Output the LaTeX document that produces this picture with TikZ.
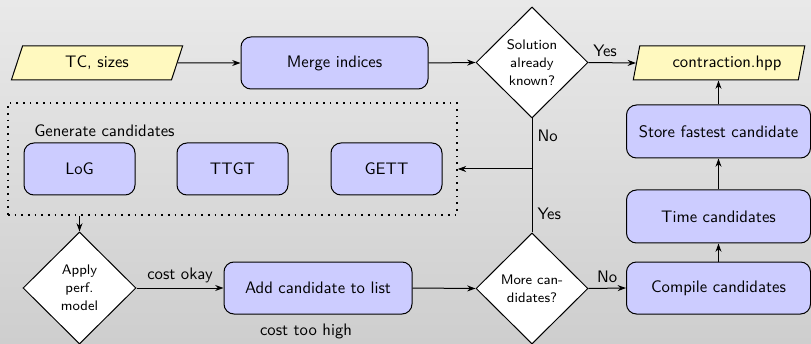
\documentclass[tikz,border=0pt]{standalone}
\usetikzlibrary{shapes.geometric,arrows.meta}
\newcommand{\PX}{0.6pt}
\definecolor{boxblue}{RGB}{204,204,255}
\definecolor{ioyellow}{RGB}{255,249,191}
\definecolor{bgtop}{RGB}{233,233,233}
\definecolor{bgbot}{RGB}{206,206,206}
\begin{document}
\begin{tikzpicture}[x=0.6pt,y=-0.6pt, font=\sffamily\fontsize{10}{12}\selectfont,
  procbox/.style={draw, fill=boxblue, rounded corners=6pt, line width=0.6pt,
    minimum width=#1*\PX, minimum height=52*\PX, inner sep=0pt},
  procbox/.default=187,
  iobox/.style={trapezium, trapezium left angle=71, trapezium right angle=109,
    trapezium stretches=true, draw, fill=ioyellow, line width=0.6pt,
    minimum width=172*\PX, minimum height=34*\PX, inner sep=0pt},
  decision/.style={diamond, aspect=1, draw, fill=white, line width=0.6pt,
    minimum width=112*\PX, minimum height=111*\PX, inner sep=0pt, align=center,
    font=\sffamily\fontsize{8.3}{10.8}\selectfont},
  groupbox/.style={draw, line width=1pt, dash pattern=on 1pt off 3pt,
    minimum width=449*\PX, minimum height=112*\PX, inner sep=0pt},
  arr/.style={-{Stealth[length=5pt,width=3.6pt]}, line width=0.6pt},
  lbl/.style={inner sep=3pt}]
\shade[top color=bgtop, bottom color=bgbot] (0,0) rectangle (811,344);
\useasboundingbox (0,0) rectangle (811,344);
\clip (0,0) rectangle (811,344);

\node[iobox] (tc) at (97,63) {TC, sizes};
\node[procbox=187] (merge) at (334.5,63) {Merge indices};
\node[decision] (sol) at (532,62.5) {Solution\\already\\known?};
\node[iobox] (hpp) at (719,63) {\hspace*{9.6pt}contraction.hpp};
\node[procbox=184, minimum height=53*\PX] (store) at (718.5,131.5) {Store fastest candidate};
\node[procbox=184, minimum height=53*\PX] (time) at (718.5,216.5) {Time candidates};
\node[procbox=184] (compile) at (718.5,288) {Compile candidates};
\node[decision] (more) at (532,288.5) {More can-\\didates?};
\node[procbox=188] (add) at (318,288) {Add candidate to list};
\node[decision, minimum width=113*\PX, minimum height=112*\PX] (apply) at (79.5,288) {Apply\\perf.\\model};
\node[groupbox] (gen) at (232.5,159) {};
\node[anchor=west, inner sep=0pt] (genlbl) at (34,131) {Generate candidates};
\node[procbox=111] (log) at (79.5,169) {LoG};
\node[procbox=111] (ttgt) at (232.5,169) {TTGT};
\node[procbox=111] (gett) at (386.5,169) {GETT};
\node (toohigh) at (306,331) {cost too high};

\draw[arr] (tc.east) -- (merge.west);
\draw[arr] (merge.east) -- (sol.west);
\draw[arr] (sol.east) -- node[lbl, above, pos=0.35] {Yes} (hpp.west);
\coordinate (jn) at (sol.south |- gett.east);
\draw[line width=0.6pt] (sol.south) -- node[lbl, right, pos=0.35] {No} (jn);
\draw[line width=0.6pt] (more.north) -- node[lbl, right, pos=0.3] {Yes} (jn);
\draw[arr] (jn) -- (jn -| gen.east);
\draw[arr] (gen.south -| apply.north) -- (apply.north);
\draw[arr] (apply.east) -- node[lbl, above] {cost okay} (add.west);
\draw[arr] (add.east) -- (more.west);
\draw[arr] (more.east) -- node[lbl, above] {No} (compile.west);
\draw[arr] (compile.north) -- (time.south);
\draw[arr] (time.north) -- (store.south);
\draw[arr] (store.north) -- (store.north |- hpp.south);
\draw[arr] (apply.south) to[out=-20, in=-160] (more.south);
\end{tikzpicture}
\end{document}
